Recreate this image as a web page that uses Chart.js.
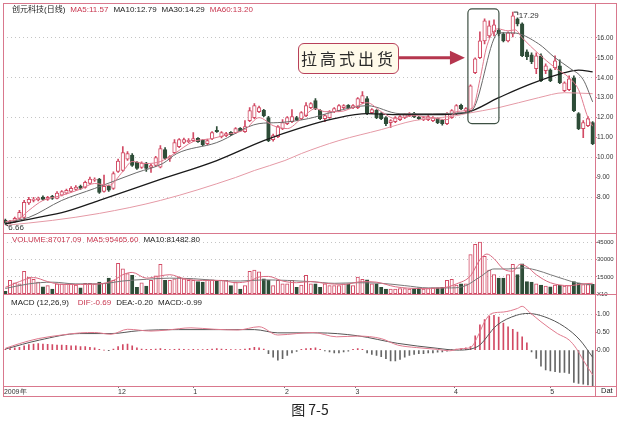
<!DOCTYPE html>
<html>
<head>
<meta charset="utf-8">
<script src="https://cdn.jsdelivr.net/npm/chart.js@4.4.0/dist/chart.umd.min.js"></script>
<style>
  body { margin: 0; background: #fff; width: 620px; height: 430px; overflow: hidden; position: relative;
         font-family: "Liberation Sans", "Noto Sans CJK SC", sans-serif; }
  #wrap { position: absolute; left: 0; top: 0; width: 620px; height: 400px; }
  .row { position: absolute; font-size: 8px; line-height: 10px; white-space: nowrap; color: #222; }
  .row span { margin-right: 5px; }
  .red { color: #c8364f; }
  #note { position: absolute; left: 298px; top: 43px; width: 99px; height: 29px; border: 1.5px solid #b8405a;
          border-radius: 6px; background: #fffaea; font-family: "Noto Sans CJK SC", sans-serif; font-size: 16px;
          line-height: 29px; text-align: center; letter-spacing: 3px; color: #2a2a2a; }
  #caption { position: absolute; left: 0; top: 399px; width: 620px; text-align: center; font-size: 14px;
             font-family: "Noto Sans CJK SC", sans-serif; color: #222; }
</style>
</head>
<body>
<div id="wrap"><canvas id="kline" width="620" height="400"></canvas></div>

<div class="row" style="left:12px;top:5px"><span>创元科技(日线)</span><span class="red">MA5:11.57</span><span>MA10:12.79</span><span>MA30:14.29</span><span class="red">MA60:13.20</span></div>
<div class="row" style="left:12px;top:235px"><span class="red">VOLUME:87017.09</span><span class="red">MA5:95465.60</span><span>MA10:81482.80</span></div>
<div class="row" style="left:11px;top:298px"><span style="margin-right:9px">MACD (12,26,9)</span><span class="red">DIF:-0.69</span><span>DEA:-0.20</span><span>MACD:-0.99</span></div>

<div class="row" style="left:601px;top:386px;font-size:7.5px">Dat</div>
<div id="note">拉高式出货</div>
<div id="caption">图 7-5</div>

<script>
// daily candles
const opens = [6.85,6.72,6.78,6.95,7.0,7.72,7.85,7.88,8.02,7.9,
  8.06,7.95,8.12,8.22,8.3,8.4,8.56,8.5,8.7,8.86,
  8.92,8.3,8.56,8.45,9.3,9.36,9.92,10.12,9.76,9.5,
  9.72,9.5,9.6,9.52,10.4,9.95,10.25,10.55,10.76,10.8,
  10.85,10.96,10.86,10.7,10.95,11.36,11.05,11.1,11.26,11.25,
  11.46,11.3,11.85,12.0,12.3,12.36,12.0,10.9,11.05,11.45,
  11.7,11.8,12.0,11.95,12.1,12.5,12.86,12.36,11.95,12.0,
  12.3,12.35,12.5,12.62,12.5,12.5,12.75,12.96,12.25,12.36,
  12.2,12.0,11.75,11.8,11.9,12.0,12.1,12.22,12.02,11.9,
  11.9,11.85,11.96,11.86,11.7,12.0,12.2,12.62,12.32,12.35,
  14.25,15.0,15.85,16.1,16.3,16.38,16.2,15.85,16.2,16.95,
  16.7,15.3,15.15,14.45,15.1,14.35,14.4,14.5,14.6,13.35,
  13.4,14.0,12.2,11.45,11.6,11.75];
const highs = [6.92,6.85,7.02,7.35,7.85,8.0,8.0,8.02,8.08,8.05,
  8.1,8.3,8.35,8.42,8.55,8.6,8.62,8.82,9.02,8.98,
  8.96,9.12,8.62,9.28,9.92,10.55,10.3,10.2,9.8,9.78,
  9.76,9.66,10.06,10.6,10.5,10.1,10.9,10.95,10.98,10.95,
  11.25,11.0,10.9,10.92,11.3,11.55,11.3,11.26,11.3,11.5,
  11.5,11.85,12.5,12.7,12.58,12.42,12.06,11.18,11.6,11.9,
  12.05,12.4,12.06,12.3,12.75,12.76,12.95,12.4,12.15,12.35,
  12.5,12.65,12.66,12.66,12.66,13.0,13.3,13.05,12.45,12.4,
  12.25,12.05,11.9,12.05,12.1,12.2,12.25,12.26,12.06,12.05,
  12.1,12.05,12.0,11.9,12.25,12.4,12.65,12.68,12.5,13.65,
  15.0,16.3,16.95,16.85,16.9,16.45,16.26,16.3,17.29,17.0,
  16.75,15.4,15.25,15.25,15.2,14.7,14.45,15.1,14.9,13.8,
  14.1,14.1,12.25,11.85,12.05,11.8];
const lows = [6.66,6.68,6.74,6.9,6.88,7.65,7.78,7.82,7.86,7.85,
  7.9,7.92,8.08,8.18,8.26,8.35,8.4,8.46,8.66,8.8,
  8.2,8.26,8.3,8.4,9.25,9.3,9.85,9.55,9.4,9.45,
  9.3,9.25,9.55,9.48,9.9,9.8,10.2,10.5,10.7,10.74,
  10.8,10.76,10.6,10.65,10.9,11.26,10.98,11.05,11.1,11.2,
  11.3,11.26,11.8,11.95,12.25,12.05,10.8,10.82,11.0,11.4,
  11.65,11.75,11.85,11.9,12.05,12.45,12.4,11.9,11.8,11.96,
  12.25,12.3,12.45,12.45,12.45,12.45,12.7,12.15,12.2,11.95,
  11.9,11.6,11.5,11.75,11.85,11.95,12.05,12.0,11.9,11.85,
  11.85,11.8,11.7,11.62,11.65,11.96,12.15,12.4,12.28,12.3,
  14.2,14.95,15.7,16.0,16.1,16.1,15.8,15.8,16.05,16.6,
  15.05,14.9,14.7,14.2,13.8,14.2,13.8,14.4,13.7,13.3,
  13.35,12.3,11.4,11.0,11.55,10.65];
const closes = [6.72,6.78,6.95,7.25,7.75,7.9,7.92,7.97,7.9,8.0,
  7.95,8.22,8.3,8.36,8.46,8.52,8.45,8.76,8.92,8.9,
  8.25,8.56,8.36,9.2,9.82,10.25,10.2,9.6,9.45,9.72,
  9.45,9.6,10.0,10.45,9.95,10.05,10.75,10.9,10.9,10.86,
  10.95,10.8,10.65,10.85,11.25,11.3,11.25,11.2,11.15,11.45,
  11.35,11.55,12.35,12.6,12.5,12.1,10.85,11.1,11.55,11.75,
  12.0,12.05,11.9,12.25,12.6,12.7,12.45,11.95,12.1,12.3,
  12.45,12.6,12.6,12.5,12.6,12.95,13.1,12.2,12.4,12.0,
  11.95,11.7,11.85,12.0,12.05,12.15,12.2,12.05,11.95,12.0,
  12.05,12.0,11.75,11.7,12.2,12.35,12.6,12.45,12.45,13.6,
  14.95,15.85,16.85,16.6,16.65,16.2,15.85,16.25,17.1,16.7,
  15.1,15.05,14.8,15.1,13.85,14.6,13.85,14.85,13.75,13.75,
  13.95,12.35,11.45,11.75,11.95,10.7];
const volumes = [2500,12000,10000,9000,20000,15000,13000,10500,6500,7500,
  4500,9000,9000,9000,9000,8000,5500,9500,9500,9000,
  10500,9500,14000,12000,27000,22000,18000,16500,6000,10000,
  7000,12000,16000,26000,12000,12000,13500,15000,13500,12000,
  12000,11000,10500,12500,12500,12000,12000,12000,7500,10500,
  4500,7500,20000,21000,19500,13500,12000,7500,12000,9000,
  9000,12000,6000,8000,16500,9000,9000,6000,9000,7500,
  7500,7500,9000,9000,7500,15000,13000,12500,9000,9000,
  6000,4500,4500,4500,5000,5000,4500,5000,5500,4500,
  5000,5500,5500,6000,12000,13000,8000,9000,9000,34500,
  43500,45500,33000,21000,17000,14000,14000,17000,26000,17000,
  26500,11000,10500,9000,8000,7000,6500,8000,8000,7000,
  7500,11000,10000,8500,8500,8700];
const macdBars = [0.02,0.04,0.06,0.08,0.12,0.15,0.17,0.18,0.17,0.16,
  0.15,0.14,0.14,0.13,0.12,0.12,0.10,0.10,0.08,0.06,
  0.02,0.00,-0.01,0.03,0.10,0.15,0.17,0.12,0.06,0.03,
  0.02,0.02,0.03,0.04,0.02,0.01,0.02,0.03,0.02,0.01,
  0.02,0.01,0.01,0.02,0.03,0.04,0.03,0.02,0.01,0.01,
  0.01,0.03,0.05,0.08,0.06,0.03,-0.10,-0.20,-0.28,-0.24,
  -0.15,-0.08,-0.04,0.02,0.04,0.05,0.06,0.02,-0.02,-0.05,
  -0.08,-0.08,-0.05,-0.03,0.02,0.04,0.02,-0.08,-0.12,-0.15,
  -0.18,-0.24,-0.30,-0.30,-0.26,-0.20,-0.15,-0.12,-0.10,-0.10,
  -0.08,-0.08,-0.06,-0.05,-0.03,0.01,0.03,0.04,0.06,0.10,
  0.40,0.70,0.85,0.95,0.97,0.92,0.75,0.65,0.58,0.50,
  0.37,0.20,-0.05,-0.23,-0.45,-0.55,-0.58,-0.60,-0.62,-0.62,
  -0.65,-0.90,-0.93,-0.95,-0.97,-0.99];

// moving average lines, sampled [candle index, value]
const ma5Pts = [[0,6.78],[3,6.95],[5,7.35],[8,7.85],[12,8.1],[16,8.42],[19,8.7],[22,8.6],[25,9.3],[27,9.8],
  [30,9.7],[33,9.8],[36,10.2],[40,10.8],[44,10.95],[48,11.2],[51,11.4],[54,12.0],[57,11.6],[60,11.45],
  [63,11.95],[66,12.45],[68,12.3],[71,12.3],[75,12.6],[77,12.75],[80,12.3],[83,11.95],[87,12.1],[91,11.98],
  [94,11.9],[96,12.3],[99.5,12.5],[101,13.9],[102.5,15.6],[104.8,16.45],[107,16.35],[108.5,16.4],[110,16.0],
  [113.5,15.2],[117,14.5],[120,14.0],[122,13.4],[124,12.0],[125,11.57]];
const ma10Pts = [[0,6.75],[5,7.0],[12,7.85],[19,8.45],[28,9.25],[33.5,9.7],[36.5,10.2],[45,10.75],[54,11.7],
  [58,11.75],[64.5,11.95],[70,12.3],[77,12.6],[84,12.2],[91,12.2],[98,12.25],[99.5,12.4],[105,16.25],
  [108,16.25],[113.5,15.7],[117,15.0],[120,14.5],[123,13.9],[125,12.79]];
const ma30Pts = [[0,6.68],[6,6.95],[13,7.3],[20,7.85],[33,8.9],[45,9.85],[55,10.85],[63,11.5],[70,11.95],
  [77,12.2],[84,12.15],[91,12.15],[98,12.25],[105,13.0],[112,13.7],[119,14.25],[122,14.38],[125,14.29]];
const ma60Pts = [[0,6.6],[10,6.85],[20,7.2],[33,7.85],[49,9.0],[53,9.35],[59.5,9.85],[63,10.2],[71,10.85],
  [80,11.4],[87,11.85],[96,12.1],[98,12.2],[105,12.5],[113.5,13.0],[119,13.25],[125,13.2]];
const volMa5Pts = [[0,6000],[3,11000],[6,14500],[9,11000],[12,8500],[16,8500],[20,9000],[23,12000],[25,17000],
  [27,19000],[30,14000],[33,16000],[35,17000],[38,13500],[42,12000],[46,12000],[49,10000],[52,11500],
  [54,15000],[56,15500],[59,11500],[62,10000],[65,11000],[68,9500],[72,8500],[76,11000],[79,10500],
  [83,6500],[88,5000],[93,5500],[96,9000],[99,16000],[101,30000],[102.5,35000],[104,31000],[106,22000],
  [108,20000],[109.5,26000],[111,24000],[113,17000],[116,10000],[120,7500],[123,9000],[125,9546]];
const volMa10Pts = [[0,5000],[5,9000],[10,10500],[15,9000],[20,9000],[25,11500],[30,13000],[35,14000],
  [40,13500],[45,12000],[50,11500],[55,12500],[60,12000],[65,11000],[70,9500],[75,10000],[80,9500],
  [85,7500],[90,5500],[95,5500],[98,7500],[101,15000],[104,22000],[107,22000],[110,23000],[113,21000],
  [116,17000],[119,13000],[122,9500],[125,8148]];
const difPts = [[0,0.05],[3,0.18],[7,0.32],[12,0.42],[16,0.48],[19,0.49],[22.5,0.44],[26,0.58],[31,0.53],
  [34.5,0.56],[39.5,0.62],[44.5,0.58],[49.5,0.56],[54,0.65],[58,0.42],[62,0.46],[65.5,0.49],[70.5,0.37],
  [75,0.39],[80,0.32],[83.5,0.14],[87.5,0.07],[92,0.02],[94.5,-0.02],[97,0.04],[99,0.07],[100.5,0.37],
  [102,0.79],[103.5,1.02],[106,1.06],[109,1.16],[110,1.22],[111.5,1.06],[114,0.79],[117.5,0.46],
  [120,0.28],[121.5,0.05],[123,-0.28],[125,-0.69]];
const deaPts = [[0,0.03],[7.3,0.28],[15.8,0.46],[22.5,0.46],[28.4,0.54],[36.9,0.57],[45.4,0.57],[53,0.57],
  [58,0.48],[66.4,0.48],[74.9,0.40],[83.4,0.19],[91.9,0.05],[96.1,0.0],[100.4,0.09],[104.6,0.69],
  [108.8,0.97],[111.3,1.02],[114.7,0.93],[119,0.65],[122.3,0.28],[125,-0.20]];

const priceTicks = [8, 9, 10, 11, 12, 13, 14, 15, 16];
const volTicks = [0, 15000, 30000, 45000];
const macdTicks = [0, 0.5, 1];
const monthIdx = [-0.3, 24, 40, 59.5, 74.5, 95.5, 116];
const monthLabels = ['2009年', '12', '1', '2', '3', '4', '5'];

const PINK = '#d9788d';
const UP = '#d24a64';
const DOWN = '#2e4d38';
const GRID = 'rgba(140,140,140,0.5)';
const TICK_FONT = { size: 6.5, family: 'Liberation Sans' };

const idx = closes.map((_, i) => i);
const up = i => closes[i] >= opens[i];
const pts = arr => arr.map(p => ({ x: p[0], y: p[1] }));
const lineDs = (data, color, axis, width) => ({
  type: 'line', data: pts(data), yAxisID: axis, borderColor: color, borderWidth: width || 1,
  pointRadius: 0, cubicInterpolationMode: 'monotone', order: 1
});

const framePlugin = {
  id: 'frame',
  afterDatasetsDraw(chart) {
    const { ctx, chartArea, scales } = chart;
    const { x, yPrice } = scales;
    ctx.save();
    // highlighted candles and arrow
    const l = x.getPixelForValue(98.45), r = x.getPixelForValue(105.05);
    const t = yPrice.getPixelForValue(17.45), b = yPrice.getPixelForValue(11.7);
    ctx.strokeStyle = '#3d5043';
    ctx.lineWidth = 1.2;
    ctx.beginPath();
    ctx.roundRect(l, t, r - l, b - t, 4);
    ctx.stroke();
    const ay = yPrice.getPixelForValue(15.0);
    const tip = l - 3, base = tip - 15;
    ctx.strokeStyle = ctx.fillStyle = '#b5364e';
    ctx.lineWidth = 3;
    ctx.beginPath(); ctx.moveTo(399, ay); ctx.lineTo(base + 1, ay); ctx.stroke();
    ctx.beginPath(); ctx.moveTo(tip, ay); ctx.lineTo(base, ay - 7); ctx.lineTo(base, ay + 7); ctx.closePath(); ctx.fill();

    // high / low marks
    ctx.fillStyle = '#333';
    ctx.strokeStyle = '#333';
    ctx.lineWidth = 1;
    ctx.font = '8px "Liberation Sans"';
    const hx = x.getPixelForValue(108), hy = yPrice.getPixelForValue(highs[108]);
    ctx.beginPath(); ctx.moveTo(hx + 1, hy); ctx.lineTo(hx + 5, hy); ctx.lineTo(hx + 5, hy + 3); ctx.stroke();
    ctx.fillText(highs[108].toFixed(2), hx + 6, hy + 6);
    const lx = x.getPixelForValue(0), ly = yPrice.getPixelForValue(lows[0]);
    ctx.beginPath(); ctx.moveTo(lx, ly); ctx.lineTo(lx + 3, ly + 2); ctx.stroke();
    ctx.fillText(lows[0].toFixed(2), lx + 3, ly + 6);

    // panel frames
    ctx.strokeStyle = PINK;
    ctx.lineWidth = 1;
    const hl = y => { ctx.beginPath(); ctx.moveTo(3, y); ctx.lineTo(617, y); ctx.stroke(); };
    hl(Math.round(scales.yVol.top) + 0.5);
    hl(Math.round(scales.yMacd.top) + 0.5);
    hl(Math.round(chartArea.bottom) + 0.5);
    ctx.beginPath(); ctx.moveTo(chartArea.right + 0.5, 3); ctx.lineTo(chartArea.right + 0.5, 397); ctx.stroke();
    ctx.strokeRect(3.5, 3.5, 613, 393);
    ctx.restore();
  }
};

new Chart(document.getElementById('kline'), {
  type: 'bar',
  data: {
    datasets: [
      {
        data: idx.map(i => ({ x: i, y: [lows[i], highs[i]] })), yAxisID: 'yPrice',
        backgroundColor: idx.map(i => up(i) ? UP : DOWN), barThickness: 1, grouped: false, order: 5
      },
      {
        data: idx.map(i => ({ x: i, y: [opens[i], closes[i]] })), yAxisID: 'yPrice',
        backgroundColor: idx.map(i => up(i) ? '#ffffff' : DOWN),
        borderColor: idx.map(i => up(i) ? UP : DOWN), borderWidth: 1, borderSkipped: false,
        barThickness: 3.6, minBarLength: 1, grouped: false, order: 4
      },
      {
        data: idx.map(i => ({ x: i, y: volumes[i] })), yAxisID: 'yVol',
        backgroundColor: idx.map(i => up(i) ? '#ffffff' : DOWN),
        borderColor: idx.map(i => up(i) ? UP : DOWN), borderWidth: 1, borderSkipped: false,
        barThickness: 3.4, grouped: false, order: 4
      },
      {
        data: idx.map(i => ({ x: i, y: macdBars[i] })), yAxisID: 'yMacd',
        backgroundColor: idx.map(i => macdBars[i] >= 0 ? UP : '#666666'),
        barThickness: 1, grouped: false, order: 4
      },
      lineDs(ma5Pts, '#e07a8e', 'yPrice'),
      lineDs(ma10Pts, '#6a6a6a', 'yPrice'),
      lineDs(ma30Pts, '#1a1a1a', 'yPrice', 1.3),
      lineDs(ma60Pts, '#e59aa6', 'yPrice'),
      lineDs(volMa5Pts, '#d96a80', 'yVol'),
      lineDs(volMa10Pts, '#777777', 'yVol'),
      lineDs(difPts, '#e07a8e', 'yMacd'),
      lineDs(deaPts, '#555555', 'yMacd')
    ]
  },
  options: {
    responsive: false,
    animation: false,
    layout: { padding: { left: 3, top: 3, right: 3, bottom: 4 } },
    plugins: { legend: { display: false }, tooltip: { enabled: false } },
    scales: {
      x: {
        type: 'linear', min: -0.5, max: 125.5, offset: false,
        grid: { drawOnChartArea: false, offset: false, color: '#777', tickLength: 2 },
        border: { display: false },
        afterBuildTicks: s => { s.ticks = monthIdx.map(v => ({ value: v })); },
        ticks: {
          autoSkip: false, maxRotation: 0, align: 'start', padding: 0, color: '#333',
          font: { size: 7, family: 'Liberation Sans' },
          callback: (v, i) => monthLabels[i]
        },
        afterFit: s => { s.height = 10; }
      },
      yPrice: {
        type: 'linear', position: 'right', stack: 'panes', stackWeight: 230, weight: 1,
        min: 6.2, max: 17.7,
        afterBuildTicks: s => { s.ticks = priceTicks.map(v => ({ value: v })); },
        ticks: { autoSkip: false, callback: v => v.toFixed(2), padding: 0, color: '#333', font: TICK_FONT },
        grid: { color: c => (c.tick && c.tick.value % 2 === 0) ? GRID : 'rgba(0,0,0,0)', tickColor: PINK, tickLength: 2 },
        border: { color: PINK, dash: [1, 3] },
        afterFit: s => { s.width = 22; }
      },
      yVol: {
        type: 'linear', position: 'right', stack: 'panes', stackWeight: 61, weight: 2,
        min: 0, max: 53000,
        afterBuildTicks: s => { s.ticks = volTicks.map(v => ({ value: v })); },
        ticks: { autoSkip: false, callback: v => v === 0 ? 'X10' : String(v), padding: 0, color: '#333', font: { size: 6, family: 'Liberation Sans' } },
        grid: { color: c => (c.tick && c.tick.value > 0) ? GRID : 'rgba(0,0,0,0)', tickColor: PINK, tickLength: 2 },
        border: { color: PINK, dash: [1, 3] },
        afterFit: s => { s.width = 22; }
      },
      yMacd: {
        type: 'linear', position: 'right', stack: 'panes', stackWeight: 92, weight: 3,
        min: -1.0, max: 1.556,
        afterBuildTicks: s => { s.ticks = macdTicks.map(v => ({ value: v })); },
        ticks: { autoSkip: false, callback: v => v.toFixed(2), padding: 0, color: '#333', font: TICK_FONT },
        grid: { color: c => (c.tick && c.tick.value === 1) ? GRID : 'rgba(0,0,0,0)', tickColor: PINK, tickLength: 2 },
        border: { color: PINK, dash: [1, 3] },
        afterFit: s => { s.width = 22; }
      }
    }
  },
  plugins: [framePlugin]
});
</script>
</body>
</html>
